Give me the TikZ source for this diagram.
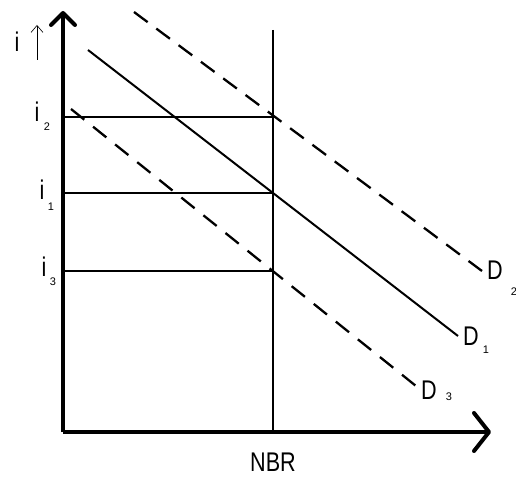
\documentclass[tikz,border=0pt]{standalone}
\usepackage{fontspec}
\setmainfont{Liberation Sans}
\usetikzlibrary{arrows.meta}
\begin{document}
\begin{tikzpicture}[x=1pt,y=-1pt,
  axis/.style={line width=4pt},
  thin/.style={line width=2pt},
  dashd/.style={line width=2.3pt, dash pattern=on 17pt off 10.8pt},
  dashe/.style={line width=2.3pt, dash pattern=on 17pt off 11.3pt},
  lbl/.style={inner sep=0pt, font=\fontsize{27}{28}\selectfont},
  sub/.style={inner sep=0pt, font=\fontsize{11}{12}\selectfont}]
\path[use as bounding box] (0,0) rectangle (516,478);
% axes
\coordinate (o) at (63,432);
\coordinate (yt) at (63,13);
\coordinate (xt) at (489,432);
\draw[axis] (o) -- (yt);
\draw[axis, line cap=round, line join=round] ([shift={(-12,12)}]yt) -- (yt) -- ([shift={(12,12)}]yt);
\draw[axis] (o) -- (xt);
\draw[axis, line cap=round, line join=round] ([shift={(-15,-19)}]xt) -- (xt) -- ([shift={(-15,19)}]xt);
% NBR vertical
\coordinate (nt) at (273,30);
\coordinate (nb) at (273,432);
\draw[thin] (nt) -- (nb);
% horizontals
\coordinate (a2) at (63,117); \coordinate (b2) at (273,117);
\coordinate (a1) at (63,193); \coordinate (b1) at (273,193);
\coordinate (a3) at (63,271); \coordinate (b3) at (273,271);
\draw[thin] (a2) -- (b2);
\draw[thin] (a1) -- (b1);
\draw[thin] (a3) -- (b3);
% demand curves
\coordinate (d1s) at (88,50); \coordinate (d1e) at (458,336);
\coordinate (d2s) at (134,12); \coordinate (d2e) at (482,271);
\coordinate (d3s) at (71,109); \coordinate (d3e) at (416,386);
\draw[thin] (d1s) -- (d1e);
\draw[dashd] (d2s) -- (d2e);
\draw[dashe] (d3s) -- (d3e);
% labels
\node[lbl] (li) at (17,42) {\scalebox{0.8}[1]{i}};
\coordinate (ars) at (37,60); \coordinate (are) at (37,25);
\draw[line width=0.6pt, -{Straight Barb[length=7pt,width=12pt]}] (ars) -- (are);
\node[lbl] (li2) at (37,112) {\scalebox{0.8}[1]{i}};
\node[sub] (s2) at (47,127) {2};
\node[lbl] (li1) at (42,190) {\scalebox{0.8}[1]{i}};
\node[sub] (s1) at (51,207) {1};
\node[lbl] (li3) at (44,267) {\scalebox{0.8}[1]{i}};
\node[sub] (s3) at (53,282) {3};
\node[lbl] (ld2) at (495,270) {\scalebox{0.8}[1]{D}};
\node[sub] (t2) at (514,292) {2};
\node[lbl] (ld1) at (471,336) {\scalebox{0.8}[1]{D}};
\node[sub] (t1) at (486,350) {1};
\node[lbl] (ld3) at (429,390) {\scalebox{0.8}[1]{D}};
\node[sub] (t3) at (449,397) {3};
\node[lbl] (nbr) at (273,462) {\scalebox{0.8}[1]{NBR}};
\end{tikzpicture}
\end{document}
